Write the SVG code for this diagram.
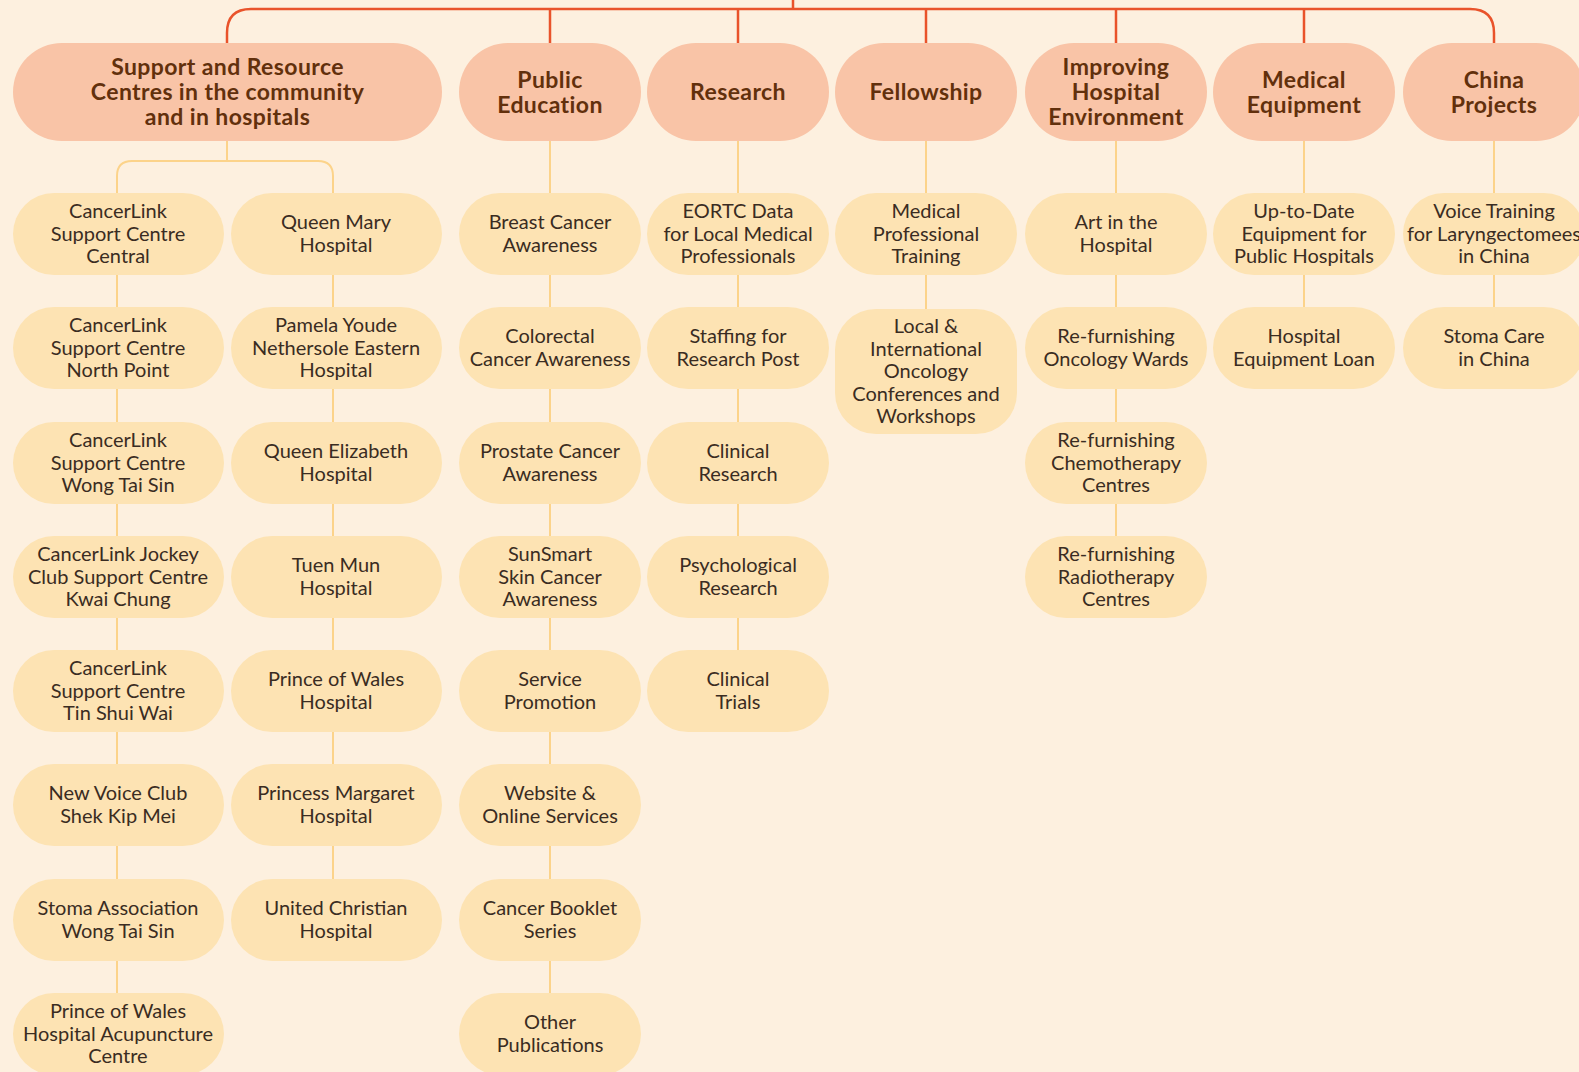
<svg xmlns="http://www.w3.org/2000/svg" width="1579" height="1072" viewBox="0 0 1579 1072">
<style>
.bg{fill:#fdf0df}
.main rect{fill:#f9c4a7}
.sub rect{fill:#fde3b3}
.main text{font-family:Lato,"Open Sans","Liberation Sans",sans-serif;font-weight:700;font-size:23px;letter-spacing:0.4px;fill:#62300c;text-anchor:middle}
.sub text{font-family:Lato,"Open Sans","Liberation Sans",sans-serif;font-weight:400;font-size:20px;fill:#3a2c22;text-anchor:middle}
.root{fill:none;stroke:#e9532b;stroke-width:2.5}
.child{fill:none;stroke:#fcd38a;stroke-width:2}
</style>
<rect class="bg" x="0" y="0" width="1579" height="1072"/>
<g id="connectors">
<path class="root" d="M793 0V9 M227 43V33Q227 9 251 9H1470Q1494 9 1494 33V43 M550 9V43 M738 9V43 M926 9V43 M1116 9V43 M1304 9V43"/>
<path class="child" d="M227 141V161 M117 193V176Q117 161 132 161H318Q333 161 333 176V193"/>
<path class="child" d="M117 275V307 M117 389V422 M117 504V536 M117 618V650 M117 732V764 M117 846V879 M117 961V993"/>
<path class="child" d="M333 275V307 M333 389V422 M333 504V536 M333 618V650 M333 732V764 M333 846V879"/>
<path class="child" d="M550 141V193 M550 275V307 M550 389V422 M550 504V536 M550 618V650 M550 732V764 M550 846V879 M550 961V993"/>
<path class="child" d="M738 141V193 M738 275V307 M738 389V422 M738 504V536 M738 618V650"/>
<path class="child" d="M926 141V193 M926 275V309"/>
<path class="child" d="M1116 141V193 M1116 275V307 M1116 389V422 M1116 504V536"/>
<path class="child" d="M1304 141V193 M1304 275V307"/>
<path class="child" d="M1494 141V193 M1494 275V307"/>
</g>
<g id="n-support" class="main"><rect x="13" y="43" width="429" height="98" rx="49"/><text x="227.5" y="75">Support and Resource</text><text x="227.5" y="100">Centres in the community</text><text x="227.5" y="125">and in hospitals</text></g>
<g id="n-public" class="main"><rect x="459" y="43" width="182" height="98" rx="49"/><text x="550" y="87.5">Public</text><text x="550" y="112.5">Education</text></g>
<g id="n-research" class="main"><rect x="647" y="43" width="182" height="98" rx="49"/><text x="738" y="100">Research</text></g>
<g id="n-fellowship" class="main"><rect x="835" y="43" width="182" height="98" rx="49"/><text x="926" y="100">Fellowship</text></g>
<g id="n-improving" class="main"><rect x="1025" y="43" width="182" height="98" rx="49"/><text x="1116" y="75">Improving</text><text x="1116" y="100">Hospital</text><text x="1116" y="125">Environment</text></g>
<g id="n-medical" class="main"><rect x="1213" y="43" width="182" height="98" rx="49"/><text x="1304" y="87.5">Medical</text><text x="1304" y="112.5">Equipment</text></g>
<g id="n-china" class="main"><rect x="1403" y="43" width="182" height="98" rx="49"/><text x="1494" y="87.5">China</text><text x="1494" y="112.5">Projects</text></g>

<g id="s-l1" class="sub"><rect x="13" y="193" width="211" height="82" rx="41"/><text x="118" y="218">CancerLink</text><text x="118" y="240.5">Support Centre</text><text x="118" y="263">Central</text></g>
<g id="s-l2" class="sub"><rect x="13" y="307" width="211" height="82" rx="41"/><text x="118" y="332">CancerLink</text><text x="118" y="354.5">Support Centre</text><text x="118" y="377">North Point</text></g>
<g id="s-l3" class="sub"><rect x="13" y="422" width="211" height="82" rx="41"/><text x="118" y="447">CancerLink</text><text x="118" y="469.5">Support Centre</text><text x="118" y="492">Wong Tai Sin</text></g>
<g id="s-l4" class="sub"><rect x="13" y="536" width="211" height="82" rx="41"/><text x="118" y="561">CancerLink Jockey</text><text x="118" y="583.5">Club Support Centre</text><text x="118" y="606">Kwai Chung</text></g>
<g id="s-l5" class="sub"><rect x="13" y="650" width="211" height="82" rx="41"/><text x="118" y="675">CancerLink</text><text x="118" y="697.5">Support Centre</text><text x="118" y="720">Tin Shui Wai</text></g>
<g id="s-l6" class="sub"><rect x="13" y="764" width="211" height="82" rx="41"/><text x="118" y="800">New Voice Club</text><text x="118" y="822.5">Shek Kip Mei</text></g>
<g id="s-l7" class="sub"><rect x="13" y="879" width="211" height="82" rx="41"/><text x="118" y="915">Stoma Association</text><text x="118" y="937.5">Wong Tai Sin</text></g>
<g id="s-l8" class="sub"><rect x="13" y="993" width="211" height="82" rx="41"/><text x="118" y="1018">Prince of Wales</text><text x="118" y="1040.5">Hospital Acupuncture</text><text x="118" y="1063">Centre</text></g>

<g id="s-r1" class="sub"><rect x="231" y="193" width="211" height="82" rx="41"/><text x="336" y="229">Queen Mary</text><text x="336" y="251.5">Hospital</text></g>
<g id="s-r2" class="sub"><rect x="231" y="307" width="211" height="82" rx="41"/><text x="336" y="332">Pamela Youde</text><text x="336" y="354.5">Nethersole Eastern</text><text x="336" y="377">Hospital</text></g>
<g id="s-r3" class="sub"><rect x="231" y="422" width="211" height="82" rx="41"/><text x="336" y="458">Queen Elizabeth</text><text x="336" y="480.5">Hospital</text></g>
<g id="s-r4" class="sub"><rect x="231" y="536" width="211" height="82" rx="41"/><text x="336" y="572">Tuen Mun</text><text x="336" y="594.5">Hospital</text></g>
<g id="s-r5" class="sub"><rect x="231" y="650" width="211" height="82" rx="41"/><text x="336" y="686">Prince of Wales</text><text x="336" y="708.5">Hospital</text></g>
<g id="s-r6" class="sub"><rect x="231" y="764" width="211" height="82" rx="41"/><text x="336" y="800">Princess Margaret</text><text x="336" y="822.5">Hospital</text></g>
<g id="s-r7" class="sub"><rect x="231" y="879" width="211" height="82" rx="41"/><text x="336" y="915">United Christian</text><text x="336" y="937.5">Hospital</text></g>

<g id="s-p1" class="sub"><rect x="459" y="193" width="182" height="82" rx="41"/><text x="550" y="229">Breast Cancer</text><text x="550" y="251.5">Awareness</text></g>
<g id="s-p2" class="sub"><rect x="459" y="307" width="182" height="82" rx="41"/><text x="550" y="343">Colorectal</text><text x="550" y="365.5">Cancer Awareness</text></g>
<g id="s-p3" class="sub"><rect x="459" y="422" width="182" height="82" rx="41"/><text x="550" y="458">Prostate Cancer</text><text x="550" y="480.5">Awareness</text></g>
<g id="s-p4" class="sub"><rect x="459" y="536" width="182" height="82" rx="41"/><text x="550" y="561">SunSmart</text><text x="550" y="583.5">Skin Cancer</text><text x="550" y="606">Awareness</text></g>
<g id="s-p5" class="sub"><rect x="459" y="650" width="182" height="82" rx="41"/><text x="550" y="686">Service</text><text x="550" y="708.5">Promotion</text></g>
<g id="s-p6" class="sub"><rect x="459" y="764" width="182" height="82" rx="41"/><text x="550" y="800">Website &amp;</text><text x="550" y="822.5">Online Services</text></g>
<g id="s-p7" class="sub"><rect x="459" y="879" width="182" height="82" rx="41"/><text x="550" y="915">Cancer Booklet</text><text x="550" y="937.5">Series</text></g>
<g id="s-p8" class="sub"><rect x="459" y="993" width="182" height="82" rx="41"/><text x="550" y="1029">Other</text><text x="550" y="1051.5">Publications</text></g>

<g id="s-re1" class="sub"><rect x="647" y="193" width="182" height="82" rx="41"/><text x="738" y="218">EORTC Data</text><text x="738" y="240.5">for Local Medical</text><text x="738" y="263">Professionals</text></g>
<g id="s-re2" class="sub"><rect x="647" y="307" width="182" height="82" rx="41"/><text x="738" y="343">Staffing for</text><text x="738" y="365.5">Research Post</text></g>
<g id="s-re3" class="sub"><rect x="647" y="422" width="182" height="82" rx="41"/><text x="738" y="458">Clinical</text><text x="738" y="480.5">Research</text></g>
<g id="s-re4" class="sub"><rect x="647" y="536" width="182" height="82" rx="41"/><text x="738" y="572">Psychological</text><text x="738" y="594.5">Research</text></g>
<g id="s-re5" class="sub"><rect x="647" y="650" width="182" height="82" rx="41"/><text x="738" y="686">Clinical</text><text x="738" y="708.5">Trials</text></g>

<g id="s-f1" class="sub"><rect x="835" y="193" width="182" height="82" rx="41"/><text x="926" y="218">Medical</text><text x="926" y="240.5">Professional</text><text x="926" y="263">Training</text></g>
<g id="s-f2" class="sub"><rect x="835" y="309" width="182" height="125" rx="41"/><text x="926" y="333">Local &amp;</text><text x="926" y="355.5">International</text><text x="926" y="378">Oncology</text><text x="926" y="400.5">Conferences and</text><text x="926" y="423">Workshops</text></g>

<g id="s-i1" class="sub"><rect x="1025" y="193" width="182" height="82" rx="41"/><text x="1116" y="229">Art in the</text><text x="1116" y="251.5">Hospital</text></g>
<g id="s-i2" class="sub"><rect x="1025" y="307" width="182" height="82" rx="41"/><text x="1116" y="343">Re-furnishing</text><text x="1116" y="365.5">Oncology Wards</text></g>
<g id="s-i3" class="sub"><rect x="1025" y="422" width="182" height="82" rx="41"/><text x="1116" y="447">Re-furnishing</text><text x="1116" y="469.5">Chemotherapy</text><text x="1116" y="492">Centres</text></g>
<g id="s-i4" class="sub"><rect x="1025" y="536" width="182" height="82" rx="41"/><text x="1116" y="561">Re-furnishing</text><text x="1116" y="583.5">Radiotherapy</text><text x="1116" y="606">Centres</text></g>

<g id="s-m1" class="sub"><rect x="1213" y="193" width="182" height="82" rx="41"/><text x="1304" y="218">Up-to-Date</text><text x="1304" y="240.5">Equipment for</text><text x="1304" y="263">Public Hospitals</text></g>
<g id="s-m2" class="sub"><rect x="1213" y="307" width="182" height="82" rx="41"/><text x="1304" y="343">Hospital</text><text x="1304" y="365.5">Equipment Loan</text></g>

<g id="s-c1" class="sub"><rect x="1403" y="193" width="182" height="82" rx="41"/><text x="1494" y="218">Voice Training</text><text x="1494" y="240.5">for Laryngectomees</text><text x="1494" y="263">in China</text></g>
<g id="s-c2" class="sub"><rect x="1403" y="307" width="182" height="82" rx="41"/><text x="1494" y="343">Stoma Care</text><text x="1494" y="365.5">in China</text></g>
</svg>
